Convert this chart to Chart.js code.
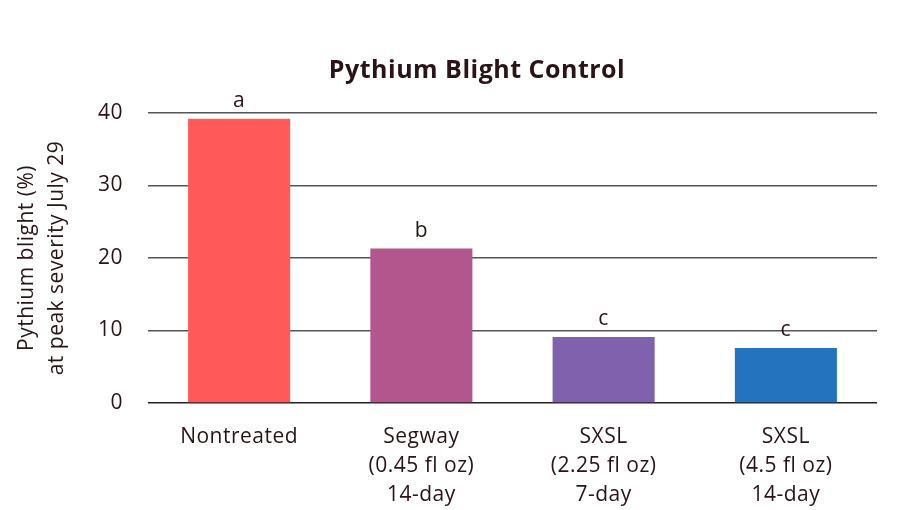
<!DOCTYPE html>
<html>
<head>
<meta charset="utf-8">
<script src="https://cdn.jsdelivr.net/npm/chart.js@4"></script>
<style>
html,body{margin:0;padding:0;background:#fff;}
#wrap{width:897px;height:510px;position:relative;}
</style>
</head>
<body>
<div id="wrap"><canvas id="c" width="897" height="510"></canvas></div>
<script>
const categories = [
  ["Nontreated"],
  ["Segway", "(0.45 fl oz)", "14-day"],
  ["SXSL", "(2.25 fl oz)", "7-day"],
  ["SXSL", "(4.5 fl oz)", "14-day"]
];
const blightValues = [39.2, 21.3, 9.1, 7.6];
const letterLabels = ["a", "b", "c", "c"];
const barColors = ["#FF595A", "#B3568D", "#7F61AE", "#2373BE"];
const yTicks = [0, 10, 20, 30, 40];
const chartTitle = "Pythium Blight Control";
const yTitle = ["Pythium blight (%)", "at peak severity July 29"];

const textColor = "#2a1417";
const fontFamily = "'Open Sans', 'DejaVu Sans', sans-serif";

const spacingPlugin = {
  id: "spacing",
  beforeUpdate(chart) { chart.ctx.letterSpacing = "0.5px"; },
  beforeRender(chart) { chart.ctx.letterSpacing = "0.5px"; }
};

const letterPlugin = {
  id: "letters",
  afterDatasetsDraw(chart) {
    const ctx = chart.ctx;
    const meta = chart.getDatasetMeta(0);
    ctx.save();
    ctx.fillStyle = textColor;
    ctx.font = "21px " + fontFamily;
    ctx.textAlign = "center";
    ctx.textBaseline = "middle";
    meta.data.forEach((bar, i) => {
      ctx.fillText(letterLabels[i], bar.x, bar.y - 18);
    });
    ctx.restore();
  }
};

const titlePlugin = {
  id: "customTitle",
  afterDraw(chart) {
    const ctx = chart.ctx;
    ctx.save();
    ctx.fillStyle = textColor;
    ctx.letterSpacing = "0.5px";
    ctx.font = "bold 25px " + fontFamily;
    ctx.textAlign = "center";
    ctx.textBaseline = "middle";
    ctx.fillText(chartTitle, 477, 71);
    ctx.restore();
  }
};

new Chart(document.getElementById("c"), {
  type: "bar",
  data: {
    labels: categories,
    datasets: [{
      data: blightValues,
      backgroundColor: barColors,
      borderWidth: 0,
      categoryPercentage: 1,
      barPercentage: 0.56
    }]
  },
  options: {
    responsive: false,
    animation: false,
    devicePixelRatio: 1,
    layout: { padding: { top: 113, right: 20, left: 0, bottom: 0 } },
    plugins: { legend: { display: false }, tooltip: { enabled: false }, title: { display: false } },
    scales: {
      x: {
        grid: { display: false, drawTicks: false },
        border: { display: false },
        ticks: {
          color: textColor,
          font: { family: fontFamily, size: 21, lineHeight: 1.38 },
          padding: 20,
          maxRotation: 0,
          autoSkip: false
        },
        afterFit(scale) { scale.height = 107; }
      },
      y: {
        min: 0, max: 40,
        afterBuildTicks(scale) { scale.ticks = yTicks.map(v => ({ value: v })); },
        grid: {
          color: (c) => c.tick && c.tick.value === 0 ? "#222" : "#555",
          lineWidth: 1.5,
          drawTicks: false
        },
        border: { display: false },
        ticks: {
          color: textColor,
          font: { family: fontFamily, size: 21 },
          padding: 25
        },
        title: {
          display: true,
          text: yTitle,
          color: textColor,
          font: { family: fontFamily, size: 21, lineHeight: 1.43 },
          padding: { top: 12, bottom: 0 }
        },
        afterFit(scale) { scale.width = 148; }
      }
    }
  },
  plugins: [spacingPlugin, letterPlugin, titlePlugin]
});
</script>
</body>
</html>
